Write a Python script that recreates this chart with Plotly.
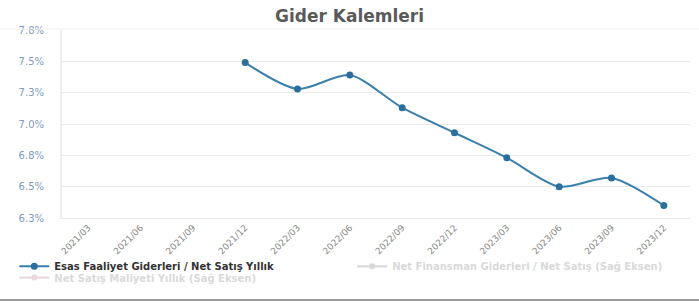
import plotly.graph_objects as go

categories = ["2021/03", "2021/06", "2021/09", "2021/12", "2022/03", "2022/06",
              "2022/09", "2022/12", "2023/03", "2023/06", "2023/09", "2023/12"]
esas_faaliyet = [None, None, None, 7.49, 7.28, 7.39, 7.13, 6.93, 6.73, 6.50, 6.57, 6.35]
# right-axis series are hidden (legend only) in the reference; values not readable
net_finansman = [None] * 12
net_satis_maliyeti = [None] * 12
y_tickvals = [6.25, 6.5, 6.75, 7.0, 7.25, 7.5, 7.75]
y_ticktext = ["6.3%", "6.5%", "6.8%", "7.0%", "7.3%", "7.5%", "7.8%"]

series1_name = "Esas Faaliyet Giderleri / Net Satış Yıllık"
series2_name = "Net Finansman Giderleri / Net Satış (Sağ Eksen)"
series3_name = "Net Satış Maliyeti Yıllık (Sağ Eksen)"

FONT = "DejaVu Sans, Verdana, sans-serif"

fig = go.Figure()
fig.add_trace(go.Scatter(
    x=categories, y=esas_faaliyet, name=series1_name,
    mode="lines+markers", line=dict(color="#3a7fae", width=2, shape="spline", smoothing=0.8),
    marker=dict(color="#2b6f9c", size=7, symbol="circle"),
    connectgaps=False, legend="legend",
))
fig.add_trace(go.Scatter(
    x=categories, y=net_finansman, name=series2_name, mode="lines+markers", visible="legendonly",
    line=dict(color="#b0b0b0", width=2), marker=dict(color="#b0b0b0", size=6),
    legend="legend3",
))
fig.add_trace(go.Scatter(
    x=categories, y=net_satis_maliyeti, name=series3_name, mode="lines+markers", visible="legendonly",
    line=dict(color="#d4b0b8", width=2), marker=dict(color="#d4b0b8", size=6),
    legend="legend2",
))

legend_font = dict(size=10, color="#333333", weight="bold", family=FONT)
hidden_font = dict(size=10, color="#b4b4b4", weight="bold", family=FONT)

fig.update_layout(
    width=699, height=303,
    margin=dict(l=62, r=9, t=30, b=85, autoexpand=False),
    paper_bgcolor="white", plot_bgcolor="white",
    font=dict(family=FONT),
    title=dict(text="Gider Kalemleri", x=0.5, xanchor="center", y=0.948, yanchor="middle",
               font=dict(size=17, color="#5a5a5a", family=FONT, weight="bold")),
    showlegend=True,
    legend=dict(orientation="h", x=-0.076, xanchor="left", y=-0.18, yanchor="top",
                font=legend_font, itemwidth=30, tracegroupgap=0, bgcolor="rgba(0,0,0,0)"),
    legend3=dict(orientation="h", x=0.462, xanchor="left", y=-0.18, yanchor="top",
                 font=hidden_font, itemwidth=30, tracegroupgap=0, bgcolor="rgba(0,0,0,0)"),
    legend2=dict(orientation="h", x=-0.076, xanchor="left", y=-0.24, yanchor="top",
                 font=hidden_font, itemwidth=30, tracegroupgap=0, bgcolor="rgba(0,0,0,0)"),
    xaxis=dict(type="category", categoryorder="array", categoryarray=categories,
               range=[-0.5, 11.5], tickangle=-45,
               tickfont=dict(size=9, color="#888888", family=FONT),
               showgrid=False, showline=True, linecolor="#e6e6e6", linewidth=1,
               ticks="", zeroline=False),
    yaxis=dict(range=[6.25, 7.75], tickvals=y_tickvals, ticktext=y_ticktext,
               tickfont=dict(size=10, color="#7f9bbd", family=FONT),
               showgrid=True, gridcolor="#ebebeb", gridwidth=1,
               showline=True, linecolor="#eeeeee", linewidth=2,
               ticks="outside", ticklen=14, tickcolor="rgba(0,0,0,0)",
               zeroline=False),
    shapes=[
        dict(type="line", xref="paper", yref="paper", x0=-0.1, x1=1.02, y0=-0.436, y1=-0.436,
             line=dict(color="#9a9a9a", width=2)),
        dict(type="line", xref="paper", yref="paper", x0=-0.1, x1=1.02, y0=1.005, y1=1.005,
             line=dict(color="#f0f0f0", width=1)),
    ],
)

fig.write_html("out.html", config={"displayModeBar": False},
               post_script="document.body.style.margin='0';")
